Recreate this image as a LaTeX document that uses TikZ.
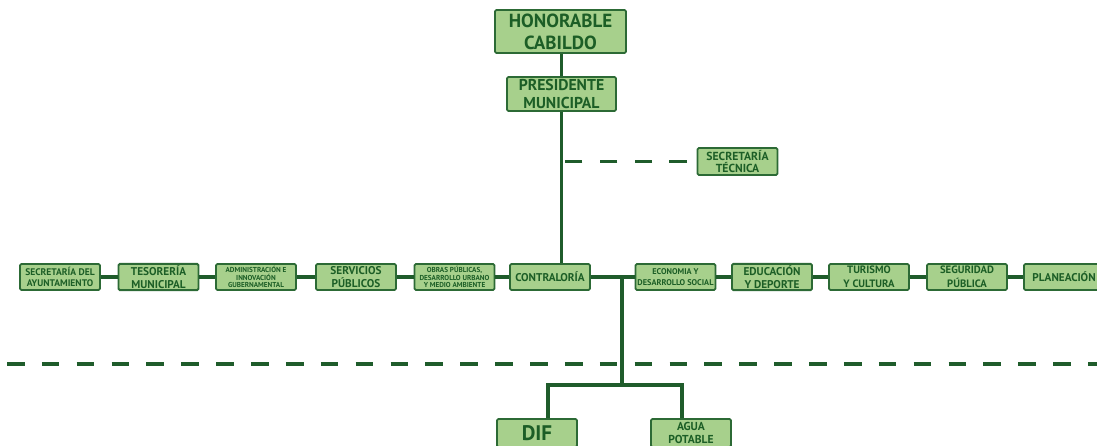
\documentclass[tikz,border=0pt]{standalone}
\usepackage{fontspec}
\setmainfont{PT Sans}
\usetikzlibrary{positioning, calc}

\definecolor{boxfill}{HTML}{A7D08C}
\definecolor{boxline}{HTML}{2C6A35}
\definecolor{textgreen}{HTML}{1C5E26}
\definecolor{linegreen}{HTML}{1F5C2B}

\tikzset{
  unit/.style={draw=boxline, fill=boxfill, line width=1.3pt, rounded corners=1pt,
    text=textgreen, align=center, inner sep=1pt,
    minimum width=2cm, minimum height=0.65cm},
  fbig/.style={font=\bfseries\fontsize{8}{9.6}\selectfont},
  fmid/.style={font=\bfseries\fontsize{6.8}{7.8}\selectfont},
  fsmall/.style={font=\bfseries\fontsize{5.1}{5.5}\selectfont},
  link/.style={draw=linegreen, line width=2.2pt},
  staff/.style={link, dash pattern=on 12.5pt off 12.3pt},
}

\begin{document}
\begin{tikzpicture}[x=0.025cm, y=-0.025cm]
\useasboundingbox (0,0) rectangle (1097,446);

% Top of the hierarchy
\node[unit, minimum width=3.275cm, minimum height=1.075cm,
      font=\bfseries\fontsize{13.5}{15.5}\selectfont] (cabildo) at (560.5,31.5) {HONORABLE\\CABILDO};
\node[unit, minimum width=2.725cm, minimum height=0.85cm,
      font=\bfseries\fontsize{11.2}{12.8}\selectfont] (presidente) at (561.5,94) {PRESIDENTE\\MUNICIPAL};
\node[unit, minimum height=0.675cm, font=\bfseries\fontsize{8.3}{9.2}\selectfont] (tecnica) at (737.5,161.5) {SECRETARÍA\\TÉCNICA};

% Row of dependencies
\node[unit, fmid]   (ayunt)   at (60,277)    {SECRETARÍA DEL\\AYUNTAMIENTO};
\node[unit, fbig]   (tesoro)  at (158.5,277) {TESORERÍA\\MUNICIPAL};
\node[unit, fsmall] (admin)   at (256,277)   {ADMINISTRACIÓN E\\INNOVACIÓN\\GUBERNAMENTAL};
\node[unit, fbig]   (servic)  at (356,277)   {SERVICIOS\\PÚBLICOS};
\node[unit, fsmall] (obras)   at (454.5,277) {OBRAS PÚBLICAS,\\DESARROLLO URBANO\\Y MEDIO AMBIENTE};
\node[unit, fbig]   (contra)  at (550,277)   {CONTRALORÍA};
\node[unit, font=\bfseries\fontsize{5.9}{7.4}\selectfont] (economia) at (675.5,277) {ECONOMIA Y\\DESARROLLO SOCIAL};
\node[unit, fbig]   (educa)   at (772,277)   {EDUCACIÓN\\Y DEPORTE};
\node[unit, font=\bfseries\fontsize{7.6}{9.6}\selectfont] (turismo) at (869,277) {TURISMO\\Y CULTURA};
\node[unit, font=\bfseries\fontsize{7.6}{9.6}\selectfont] (segur) at (967,277) {SEGURIDAD\\PÚBLICA};
\node[unit, fbig]   (planea)  at (1064,277)  {PLANEACIÓN};

% Decentralised bodies
\node[unit, minimum height=0.7cm, font=\bfseries\fontsize{15}{16}\selectfont] (dif) at (537,433) {DIF};
\node[unit, minimum height=0.7cm, font=\bfseries\fontsize{8.2}{8.6}\selectfont] (agua) at (691,433) {AGUA\\POTABLE};

% Connectors
\draw[link] (presidente.north) -- (presidente.north |- cabildo.south);
\draw[link] (presidente.south) -- (presidente.south |- contra.north);
\draw[staff, dash phase=18pt] (tecnica.west) -- (tecnica.west -| presidente.south);

\foreach \a/\b in {ayunt/tesoro, tesoro/admin, admin/servic, servic/obras, obras/contra,
                   contra/economia, economia/educa, educa/turismo, turismo/segur, segur/planea}
  \draw[link] (\a) -- (\b);

\coordinate (fork) at (622,277);
\coordinate (split) at (622,385);
\coordinate (difdrop) at (548,385);
\coordinate (aguadrop) at (682,385);
\draw[link] (fork) -- (split);
\draw[link] (difdrop |- dif.north) -- (difdrop) -- (aguadrop) -- (aguadrop |- agua.north);

% Limit of the central administration
\coordinate (limw) at (7,364);
\coordinate (lime) at (1097,364);
\draw[staff] (limw) -- (lime);
\end{tikzpicture}
\end{document}
